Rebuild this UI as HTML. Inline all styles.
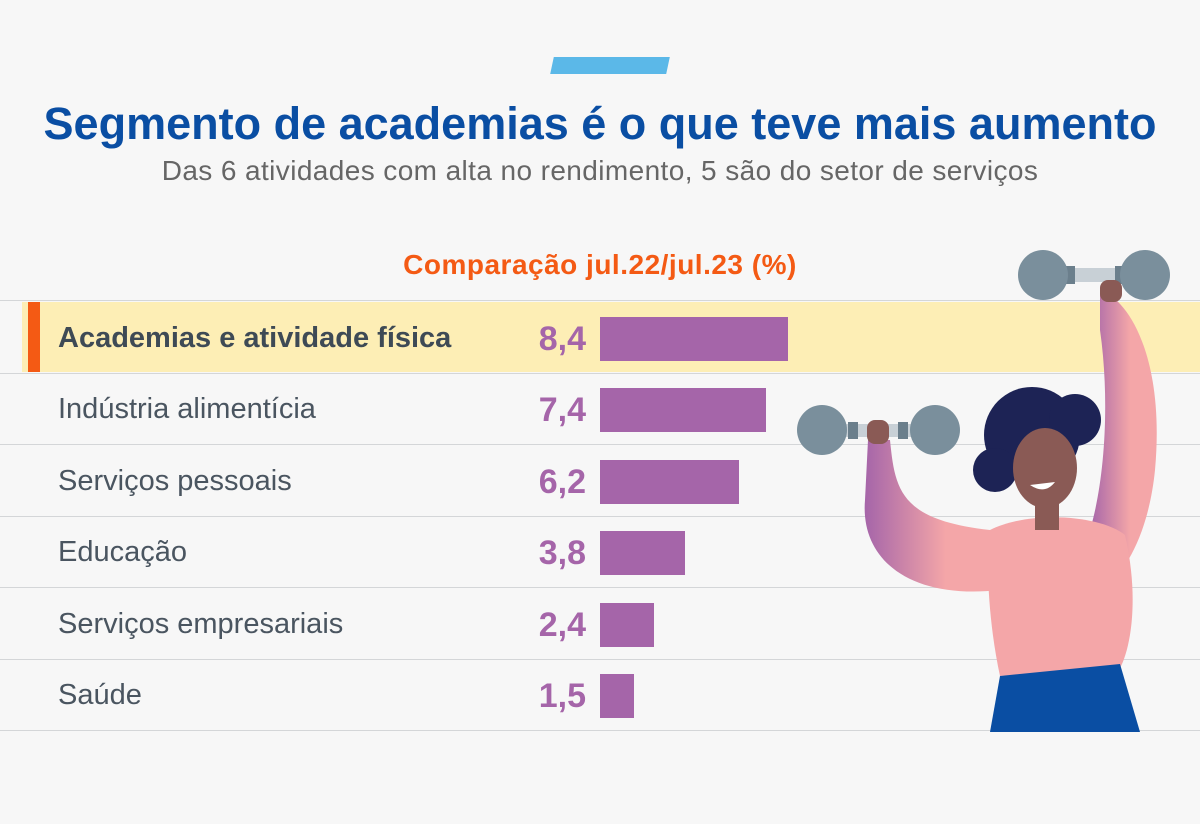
<!DOCTYPE html>
<html><head><meta charset="utf-8"><style>
body{margin:0;width:1200px;height:824px;background:#f7f7f7;font-family:"Liberation Sans",sans-serif;overflow:hidden;position:relative}
.t{position:absolute;left:0;width:1200px;text-align:center}
.row{position:absolute;left:0;width:1200px;height:71px;border-bottom:1.5px solid #d4d6d8}
.lab{position:absolute;left:58px;top:20px;font-size:29px;color:#4a5560}
.val{position:absolute;right:614px;top:18px;font-size:34px;font-weight:bold;color:#a565a9}
.bar{position:absolute;left:600px;top:15px;height:44px;background:#a565a9}
</style></head><body>
<div style="position:absolute;left:552px;top:57px;width:116px;height:17px;background:#5bb8e8;transform:skewX(-12deg)"></div>
<div class="t" style="top:98px;font-size:45px;font-weight:bold;color:#0a4ea3;letter-spacing:0px">Segmento de academias é o que teve mais aumento</div>
<div class="t" style="top:155px;font-size:28px;color:#666;letter-spacing:0.4px">Das 6 atividades com alta no rendimento, 5 são do setor de serviços</div>
<div class="t" style="top:249px;font-size:28px;font-weight:bold;color:#f45a14;letter-spacing:0.5px">Comparação jul.22/jul.23 (%)</div>
<div style="position:absolute;left:0;top:300px;width:1200px;border-top:1.5px solid #d4d6d8"></div>
<div style="position:absolute;left:22px;top:302px;width:1178px;height:70px;background:#fdeeb5"></div>
<div style="position:absolute;left:28px;top:302px;width:12px;height:70px;background:#f45a14"></div>
<div class="row" style="top:302px"><div class="lab" style="font-weight:bold;color:#3e4a55">Academias e atividade física</div><div class="val">8,4</div><div class="bar" style="width:188px"></div></div>
<div class="row" style="top:373px"><div class="lab">Indústria alimentícia</div><div class="val">7,4</div><div class="bar" style="width:166px"></div></div>
<div class="row" style="top:444.5px"><div class="lab">Serviços pessoais</div><div class="val">6,2</div><div class="bar" style="width:139px"></div></div>
<div class="row" style="top:516px"><div class="lab">Educação</div><div class="val">3,8</div><div class="bar" style="width:85px"></div></div>
<div class="row" style="top:587.5px"><div class="lab">Serviços empresariais</div><div class="val">2,4</div><div class="bar" style="width:54px"></div></div>
<div class="row" style="top:659px"><div class="lab">Saúde</div><div class="val">1,5</div><div class="bar" style="width:34px"></div></div>
<svg style="position:absolute;left:0;top:0" width="1200" height="824">
<defs><linearGradient id="g" x1="0" x2="1"><stop offset="0" stop-color="#a565a9"/><stop offset="0.6" stop-color="#f4a6a8"/></linearGradient></defs>
<path d="M1100,290 C1130,300 1165,360 1155,470 C1148,540 1120,580 1100,590 L1090,530 C1105,480 1110,400 1100,330 Z" fill="url(#g)"/>
<path d="M868,440 L890,440 C895,490 900,520 990,530 L1000,590 C910,600 860,560 865,500 Z" fill="url(#g)"/>
<path d="M990,530 C1030,510 1100,515 1125,535 C1140,600 1130,650 1120,668 L1000,676 C990,630 985,570 990,530 Z" fill="#f4a6a8"/>
<path d="M1000,676 L1120,664 L1140,732 L990,732 Z" fill="#0a4ea3"/>
<rect x="1035" y="500" width="24" height="30" fill="#8a5a55"/>
<circle cx="1032" cy="435" r="48" fill="#1d2355"/>
<circle cx="995" cy="470" r="22" fill="#1d2355"/><circle cx="1075" cy="420" r="26" fill="#1d2355"/>
<ellipse cx="1045" cy="468" rx="32" ry="40" fill="#8a5a55"/>
<path d="M1030,485 Q1045,495 1055,482 Z" fill="#fff"/>
<rect x="1040" y="268" width="110" height="14" fill="#c8d0d6"/><rect x="1065" y="266" width="10" height="18" fill="#6b7f8c"/><rect x="1115" y="266" width="10" height="18" fill="#6b7f8c"/>
<circle cx="1043" cy="275" r="25" fill="#7a8f9c"/><circle cx="1145" cy="275" r="25" fill="#7a8f9c"/>
<rect x="1100" y="280" width="22" height="22" rx="8" fill="#8a5a55"/>
<rect x="825" y="424" width="110" height="13" fill="#c8d0d6"/><rect x="848" y="422" width="10" height="17" fill="#6b7f8c"/><rect x="898" y="422" width="10" height="17" fill="#6b7f8c"/>
<circle cx="822" cy="430" r="25" fill="#7a8f9c"/><circle cx="935" cy="430" r="25" fill="#7a8f9c"/>
<rect x="867" y="420" width="22" height="24" rx="8" fill="#8a5a55"/>
</svg>
</body></html>
